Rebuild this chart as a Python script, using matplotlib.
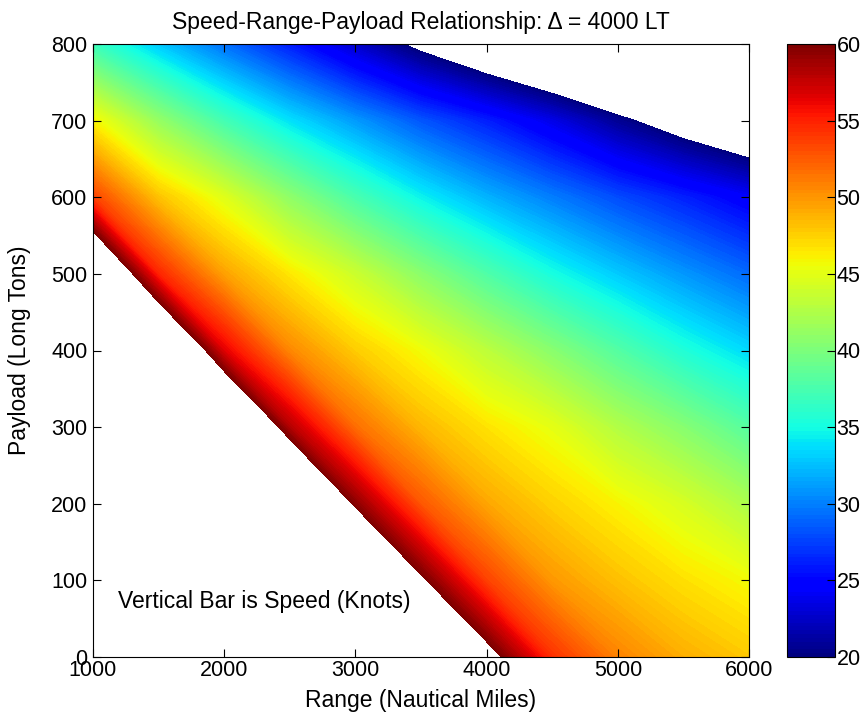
import numpy as np
import matplotlib
matplotlib.use("Agg")
import matplotlib.pyplot as plt

plt.rcParams['font.family'] = ['Liberation Sans', 'DejaVu Sans']

# speed (knots) at each range / payload node;
# values past 60 or under 20 are the blank corners of the plot
range_nm = [1000, 1500, 2000, 2500, 3000, 3500, 4000, 4500, 5000, 5500, 6000]
payload_lt = [0, 100, 200, 300, 400, 500, 600, 700, 800]
speed_kn = [
    [146.1, 125.2, 108.1, 93.7, 81.4, 70.8, 61.6, 54.3, 50.8, 49.0, 47.8],
    [130.5, 111.1, 95.2, 81.8, 70.4, 60.6, 53.6, 49.9, 48.2, 46.8, 45.7],
    [114.8, 97.0, 82.3, 70.0, 59.5, 52.7, 49.3, 47.5, 46.0, 44.4, 42.3],
    [99.2, 82.9, 69.4, 58.1, 51.7, 48.6, 46.7, 45.1, 42.6, 40.5, 38.1],
    [83.6, 68.8, 56.5, 50.6, 47.7, 45.6, 43.1, 40.6, 38.0, 35.5, 33.5],
    [68.0, 54.8, 49.5, 46.5, 43.8, 40.7, 37.8, 35.1, 32.9, 30.9, 29.1],
    [53.6, 48.1, 44.8, 40.9, 37.5, 34.5, 32.0, 29.9, 27.9, 26.2, 24.4],
    [46.0, 41.2, 37.2, 33.8, 31.0, 28.3, 26.1, 23.6, 20.7, 18.1, 15.8],
    [36.8, 32.8, 29.3, 26.0, 22.5, 19.1, 16.1, 13.5, 11.1, 9.0, 7.2],
]
speed_ticks = [20, 25, 30, 35, 40, 45, 50, 55, 60]
x_ticks = [1000, 2000, 3000, 4000, 5000, 6000]
y_ticks = [0, 100, 200, 300, 400, 500, 600, 700, 800]

fig = plt.figure(figsize=(8.67, 7.27), dpi=100)
ax = fig.add_axes([93/867, 70/727, 656/867, 613/727])
cax = fig.add_axes([787/867, 70/727, 48/867, 613/727])

R, P = np.meshgrid(range_nm, payload_lt)
levels = np.linspace(20, 60, 161)
cs = ax.contourf(R, P, np.array(speed_kn), levels=levels, cmap='jet')

ax.set_xlim(1000, 6000)
ax.set_ylim(0, 800)
ax.set_xticks(x_ticks)
ax.set_yticks(y_ticks)
ax.tick_params(direction='in', top=True, right=True, labelsize=15.5, length=6)
ax.tick_params(axis='x', pad=2)
ax.tick_params(axis='y', pad=4)
ax.set_xlabel('Range (Nautical Miles)', fontsize=16.5)
ax.set_ylabel('Payload (Long Tons)', fontsize=16.5)
ax.xaxis.set_label_coords(0.5, -0.052)
ax.yaxis.set_label_coords(-0.095, 0.5)
ax.set_title('Speed-Range-Payload Relationship: \u0394 = 4000 LT', fontsize=16.5, pad=11)
ax.text(1190, 72, 'Vertical Bar is Speed (Knots)', fontsize=16.5, va='center')

cb = fig.colorbar(cs, cax=cax, ticks=speed_ticks)
cb.ax.tick_params(direction='in', labelsize=15.5, length=6, pad=1)
cb.outline.set_linewidth(0.8)

fig.savefig('out.png', dpi=100)
